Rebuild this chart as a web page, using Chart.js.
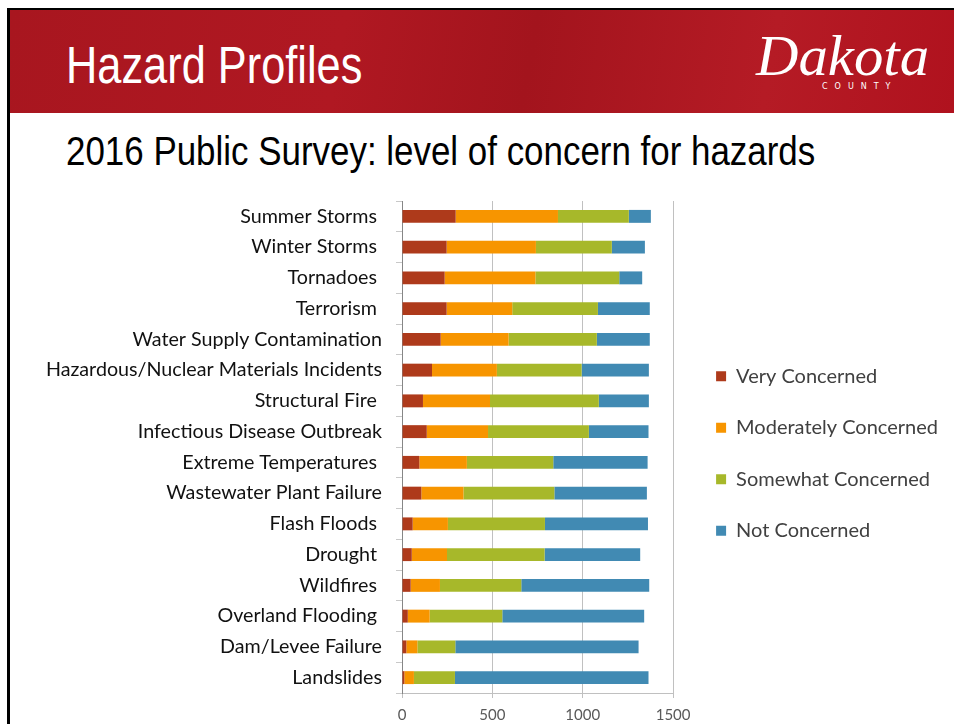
<!DOCTYPE html>
<html>
<head>
<meta charset="utf-8">
<script src="https://cdn.jsdelivr.net/npm/chart.js@4/dist/chart.umd.min.js"></script>
<style>
  html, body { margin: 0; padding: 0; background: #fff; }
  body { width: 954px; height: 724px; position: relative; overflow: hidden; }
  #frame { position: absolute; left: 7px; top: 8px; width: 947px; height: 716px;
    border-left: 3px solid #000; border-top: 2px solid #000; box-sizing: border-box; }
  #band { position: absolute; left: 10px; top: 10px; width: 944px; height: 103px;
    background: linear-gradient(100deg, #a8161f 0%, #b01822 35%, #a3141d 55%, #b51b25 80%, #b0121e 100%); }
  #title { position: absolute; left: 66px; top: 40px; color: #fff; white-space: nowrap;
    font-family: "Liberation Sans", Arial, sans-serif; font-size: 51px; line-height: 1;
    transform: scaleX(0.85); transform-origin: left top; }
  #logo { position: absolute; left: 756px; top: 28px; width: 180px; color: #fff; }
  #logo .d { font-family: "Liberation Serif", serif; font-style: italic; font-size: 56px; line-height: 1; letter-spacing: 0px;
    transform: scaleX(1.05); transform-origin: left top; }
  #logo .c { font-family: "DejaVu Sans", sans-serif; font-size: 8px; letter-spacing: 7px; margin-top: -2px; padding-left: 66px; }
  #subtitle { position: absolute; left: 66px; top: 131px; color: #000; white-space: nowrap;
    font-family: "Liberation Sans", Arial, sans-serif; font-size: 40px; line-height: 1;
    transform: scaleX(0.873); transform-origin: left top; }
  #wrap { position: absolute; left: 10px; top: 190px; width: 944px; height: 534px; }
</style>
</head>
<body>
<div id="frame"></div>
<div id="band"></div>
<div id="title">Hazard Profiles</div>
<div id="logo"><div class="d">Dakota</div><div class="c">COUNTY</div></div>
<div id="subtitle">2016 Public Survey: level of concern for hazards</div>
<div id="wrap"><canvas id="chart"></canvas></div>
<script>
const hazards = [
  'Summer Storms ', 'Winter Storms ', 'Tornadoes ', 'Terrorism ', 'Water Supply Contamination',
  'Hazardous/Nuclear Materials Incidents', 'Structural Fire ', 'Infectious Disease Outbreak',
  'Extreme Temperatures ', 'Wastewater Plant Failure', 'Flash Floods ', 'Drought ',
  'Wildfires ', 'Overland Flooding ', 'Dam/Levee Failure', 'Landslides'
];
const veryConcerned = [297, 247, 236, 247, 214, 166, 116, 137, 96, 107, 59, 54, 48, 32, 24, 13];
const moderatelyConcerned = [566, 494, 502, 363, 376, 359, 371, 339, 263, 233, 195, 195, 162, 121, 61, 53];
const somewhatConcerned = [392, 420, 464, 474, 488, 469, 602, 558, 478, 503, 537, 540, 450, 402, 210, 227];
const notConcerned = [122, 183, 127, 287, 293, 372, 277, 330, 522, 512, 570, 529, 708, 785, 1014, 1071];
const xTicks = [0, 500, 1000, 1500];

const ctx = document.getElementById('chart');
Chart.defaults.font.family = 'Lato, "Open Sans", sans-serif';
Chart.defaults.animation = false;

// let the legend be as wide as its text, then nudge it to where the slide has it
const legendShift = {
  id: 'legendShift',
  beforeLayout(chart) {
    const lg = chart.legend;
    if (lg && !lg._wide) {
      const orig = lg.update.bind(lg);
      lg.update = (w, h, m) => orig(Math.max(w, 300), h, m);
      lg._wide = true;
    }
  },
  afterLayout(chart) {
    const lg = chart.legend;
    lg.left += 11.5; lg.right += 25;
    lg.top -= 9; lg.bottom -= 9;
  }
};

new Chart(ctx, {
  type: 'bar',
  data: {
    labels: hazards,
    datasets: [
      { label: 'Very Concerned', data: veryConcerned, backgroundColor: '#ae3a1b' },
      { label: 'Moderately Concerned', data: moderatelyConcerned, backgroundColor: '#f79500' },
      { label: 'Somewhat Concerned', data: somewhatConcerned, backgroundColor: '#a7b82a' },
      { label: 'Not Concerned', data: notConcerned, backgroundColor: '#418ab3' }
    ]
  },
  options: {
    indexAxis: 'y',
    responsive: true,
    maintainAspectRatio: false,
    datasets: {
      bar: { categoryPercentage: 1, barPercentage: 0.42, borderWidth: 0 }
    },
    layout: { padding: { top: 11, left: 12, right: 17.5, bottom: 0 } },
    scales: {
      x: {
        stacked: true,
        min: 0,
        max: 1500,
        afterBuildTicks: (scale) => { scale.ticks = xTicks.map(v => ({ value: v })); },
        afterFit: (scale) => { scale.height = 31; scale.paddingLeft = 0; scale.paddingRight = 0; },
        ticks: { color: '#595959', font: { size: 15 }, padding: 8, callback: (v) => String(v) },
        grid: { color: '#c0c0c0', tickLength: 5, tickColor: '#c0c0c0' },
        border: { color: '#c0c0c0' }
      },
      y: {
        stacked: true,
        afterFit: (scale) => { scale.width = 380; scale.paddingTop = 0; scale.paddingBottom = 0; },
        ticks: { color: '#111111', font: { size: 19.7 }, padding: 14, autoSkip: false },
        grid: { offset: true, drawOnChartArea: false, tickLength: 6, tickColor: '#c8c8c8' },
        border: { color: '#868686' }
      }
    },
    plugins: {
      tooltip: { enabled: false },
      legend: {
        position: 'right',
        labels: {
          color: '#404040',
          font: { size: 20 },
          boxWidth: 10,
          boxHeight: 10,
          padding: 31.5
        }
      }
    }
  },
  plugins: [legendShift]
});
</script>
</body>
</html>
